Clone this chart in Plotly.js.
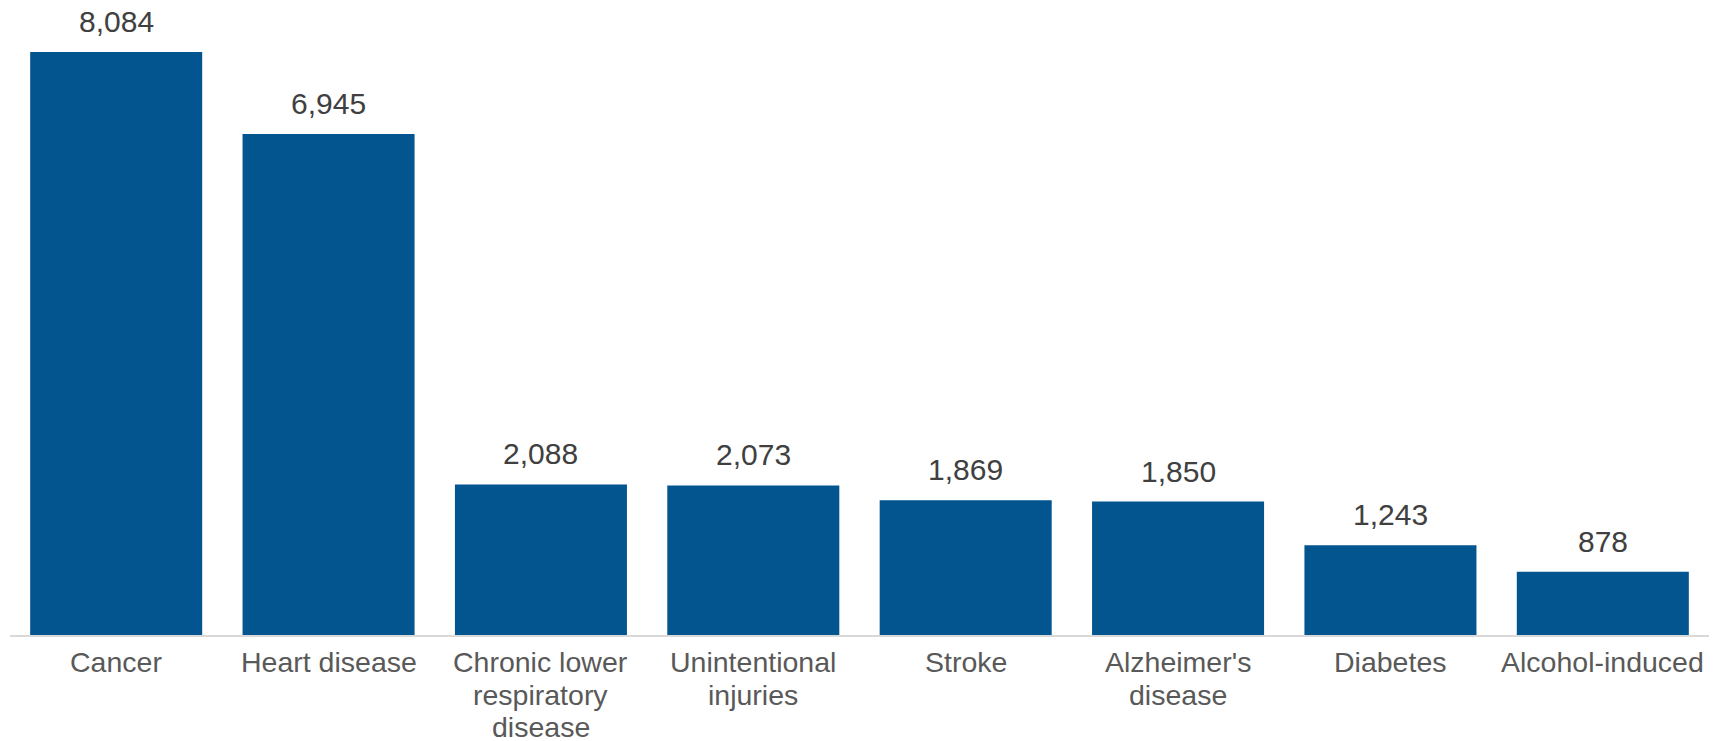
<!DOCTYPE html>
<html>
<head>
<meta charset="utf-8">
<script src="https://cdn.plot.ly/plotly-3.0.1.min.js"></script>
<style>html,body{margin:0;padding:0;background:#fff;}#chart{width:1725px;height:741px;}</style>
</head>
<body>
<div id="chart"></div>
<script>
const categories = ["Cancer", "Heart disease", "Chronic lower respiratory disease", "Unintentional injuries", "Stroke", "Alzheimer's disease", "Diabetes", "Alcohol-induced"];
const categoryLines = [["Cancer"], ["Heart disease"], ["Chronic lower", "respiratory", "disease"], ["Unintentional", "injuries"], ["Stroke"], ["Alzheimer's", "disease"], ["Diabetes"], ["Alcohol-induced"]];
const deaths = [8084, 6945, 2088, 2073, 1869, 1850, 1243, 878];
const labels = deaths.map(v => v.toLocaleString('en-US'));

const FONT = 'Liberation Sans, Arial, sans-serif';

const trace = {
  type: 'bar',
  x: categories,
  y: deaths,
  marker: {color: '#02558f', line: {width: 0}},
  hoverinfo: 'none'
};

const annotations = categories.map((c, i) => ({
  x: c, y: deaths[i], xref: 'x', yref: 'y',
  text: labels[i], showarrow: false, yanchor: 'bottom', yshift: 12,
  font: {family: FONT, size: 30, color: '#404040'}
}));

categoryLines.forEach((lines, i) => {
  lines.forEach((line, k) => {
    annotations.push({
      x: categories[i], y: 0, xref: 'x', yref: 'y',
      text: line, showarrow: false, yanchor: 'middle', xanchor: 'center',
      yshift: -(27 + 32.5 * k),
      font: {family: FONT, size: 28.5, color: '#595959'}
    });
  });
});

const layout = {
  width: 1725, height: 741,
  margin: {l: 10, r: 16, t: 20, b: 106},
  paper_bgcolor: '#ffffff', plot_bgcolor: '#ffffff',
  bargap: 0.19,
  showlegend: false,
  xaxis: {
    type: 'category',
    showline: true, linecolor: '#d9d9d9', linewidth: 2,
    ticks: '', showgrid: false, zeroline: false,
    showticklabels: false, automargin: false
  },
  yaxis: {
    range: [0, 8527], visible: false, showgrid: false, zeroline: false, fixedrange: true
  },
  annotations: annotations
};

Plotly.newPlot('chart', [trace], layout, {staticPlot: true, displayModeBar: false});
</script>
</body>
</html>
